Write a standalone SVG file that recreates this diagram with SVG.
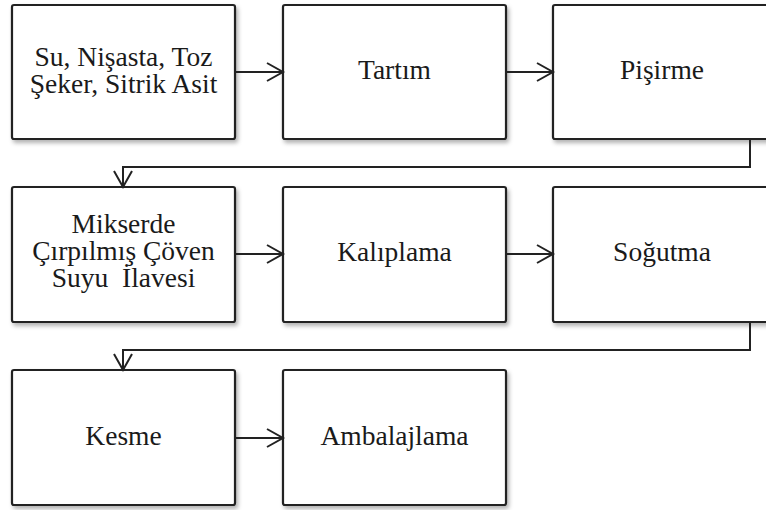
<svg xmlns="http://www.w3.org/2000/svg" width="766" height="510" viewBox="0 0 766 510">
<defs>
<filter id="sh" x="-5%" y="-5%" width="115%" height="120%">
<feDropShadow dx="2" dy="3" stdDeviation="2" flood-color="#000" flood-opacity="0.3"/>
</filter>
<marker id="ah" markerUnits="userSpaceOnUse" markerWidth="20" markerHeight="22" viewBox="0 0 20 22" refX="17" refY="10" orient="auto">
<path d="M1,1 L17,10 L1,19" fill="none" stroke="#222" stroke-width="2"/>
</marker>
<style>
.box{fill:#fff;stroke:#222;stroke-width:2.2;filter:url(#sh)}
.t{font-family:"Liberation Serif","Times New Roman",serif;font-size:27.5px;fill:#1a1a1a;text-anchor:middle;white-space:pre}
.c{fill:none;stroke:#222;stroke-width:2}
</style>
</defs>
<rect width="766" height="510" fill="#fff"/>
<g id="n1"><rect class="box" x="12" y="5" width="223" height="134" rx="2"/><text class="t" x="123.5" y="66">Su, Nişasta, Toz</text><text class="t" x="123.5" y="93">Şeker, Sitrik Asit</text></g>
<g id="n2"><rect class="box" x="283" y="5" width="223" height="134" rx="2"/><text class="t" x="394.5" y="79">Tartım</text></g>
<g id="n3"><rect class="box" x="553" y="5" width="223" height="134" rx="2"/><text class="t" x="662" y="79">Pişirme</text></g>
<g id="n4"><rect class="box" x="12" y="187" width="223" height="135" rx="2"/><text class="t" x="123.5" y="233">Mikserde</text><text class="t" x="123.5" y="260">Çırpılmış Çöven</text><text class="t" x="123.5" y="287">Suyu  İlavesi</text></g>
<g id="n5"><rect class="box" x="283" y="187" width="223" height="135" rx="2"/><text class="t" x="394.5" y="261">Kalıplama</text></g>
<g id="n6"><rect class="box" x="553" y="187" width="223" height="135" rx="2"/><text class="t" x="662" y="261">Soğutma</text></g>
<g id="n7"><rect class="box" x="12" y="370" width="223" height="135" rx="2"/><text class="t" x="123.5" y="445">Kesme</text></g>
<g id="n8"><rect class="box" x="283" y="370" width="223" height="135" rx="2"/><text class="t" x="394.5" y="445">Ambalajlama</text></g>
<g id="connectors">
<path class="c" d="M235,72 H283" marker-end="url(#ah)"/>
<path class="c" d="M506,72 H553" marker-end="url(#ah)"/>
<path class="c" d="M750,139 V167 H123 V187" marker-end="url(#ah)"/>
<path class="c" d="M235,254 H283" marker-end="url(#ah)"/>
<path class="c" d="M506,254 H553" marker-end="url(#ah)"/>
<path class="c" d="M750,322 V350 H123 V370" marker-end="url(#ah)"/>
<path class="c" d="M235,438 H283" marker-end="url(#ah)"/>
</g>
</svg>
